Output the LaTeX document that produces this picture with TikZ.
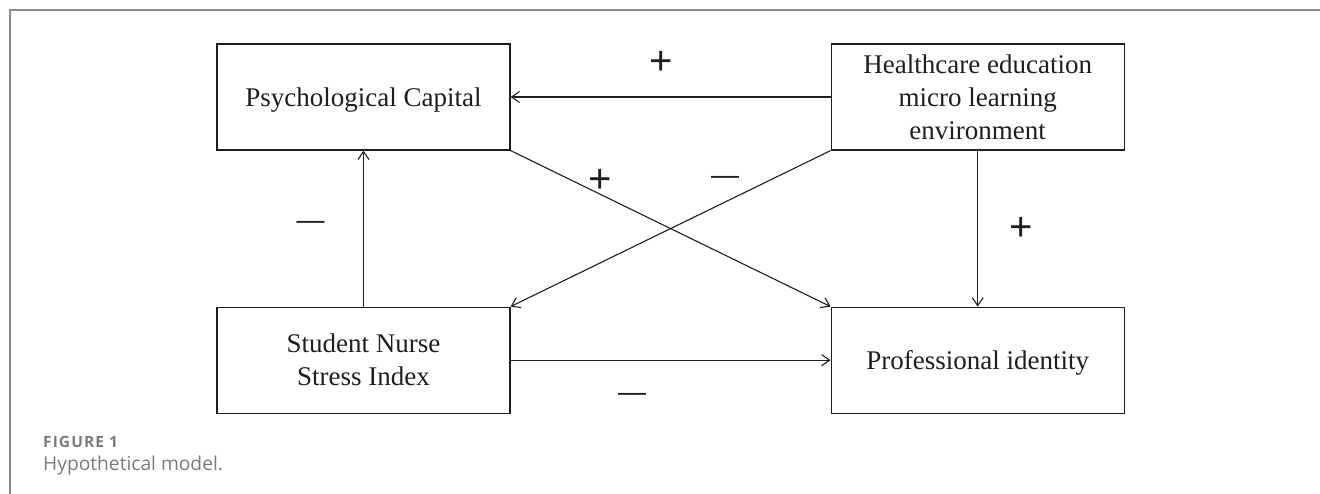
\documentclass[tikz,border=0pt]{standalone}
\usepackage{fontspec}
\setmainfont{Liberation Serif}
\newfontfamily\signfont{Liberation Sans}
\newfontfamily\capfont{Open Sans}
\newfontfamily\capheadfont[LetterSpace=7]{Open Sans Bold}
\usepackage{xcolor}
\usetikzlibrary{positioning, arrows.meta}
\definecolor{framegray}{HTML}{8C8C8C}
\definecolor{capgray}{HTML}{7A7A7A}
\definecolor{inkdark}{HTML}{1E1E1E}

\begin{document}
\begin{tikzpicture}[
    x=1pt, y=1pt,
    box/.style={rectangle, draw=inkdark, line width=1.2pt, minimum width=293pt, minimum height=106pt,
        align=center, text=inkdark, font=\fontsize{27}{33}\selectfont,
        execute at begin node={\rule{0pt}{25pt}}},
    link/.style={-{Straight Barb[length=8pt, width=11pt]}, line width=1.1pt, draw=inkdark},
    plus/.style={font=\signfont\fontsize{40}{40}\selectfont, text=inkdark, inner sep=0pt},
    minus/.style={font=\signfont\fontsize{28}{28}\selectfont, text=inkdark, inner sep=0pt}
]
\useasboundingbox (0,0) rectangle (1320,494);

% Frame and caption
\draw[framegray, line width=2pt] (10,0) -- (10,484) -- (1320,484);
\node[anchor=base west, text=capgray, inner sep=0pt, font=\capheadfont\fontsize{15.5}{17}\selectfont] (figno) at (43,46) {FIGURE 1};
\node[anchor=base west, text=capgray, inner sep=0pt, font=\capfont\fontsize{19.2}{22}\selectfont] (figcap) at (43,23) {Hypothetical model.};

% Variables
\node[box] (psych) at (363.5,397) {Psychological Capital};
\node[box, right=320pt of psych] (env) {Healthcare education\\micro learning\\environment};
\node[box, below=156pt of psych] (stress) {Student Nurse\\Stress Index};
\node[box, right=320pt of stress] (ident) {Professional identity};

% Paths
\draw[link] (env) -- node[plus, pos=0.53, yshift=34pt] (s1) {+} (psych);
\draw[link] (env) -- node[plus, xshift=43pt] (s2) {+} (ident);
\draw[link] (stress) -- node[minus, xshift=-53pt, yshift=3pt] (s3) {—} (psych);
\draw[link] (stress) -- node[minus, pos=0.38, yshift=-37pt] (s4) {—} (ident);
\draw[link] (psych.south east) -- node[plus, pos=0.28, yshift=13pt] (s5) {+} (ident.north west);
\draw[link] (env.south west) -- node[minus, pos=0.33, yshift=22pt] (s6) {—} (stress.north east);

\end{tikzpicture}
\end{document}
